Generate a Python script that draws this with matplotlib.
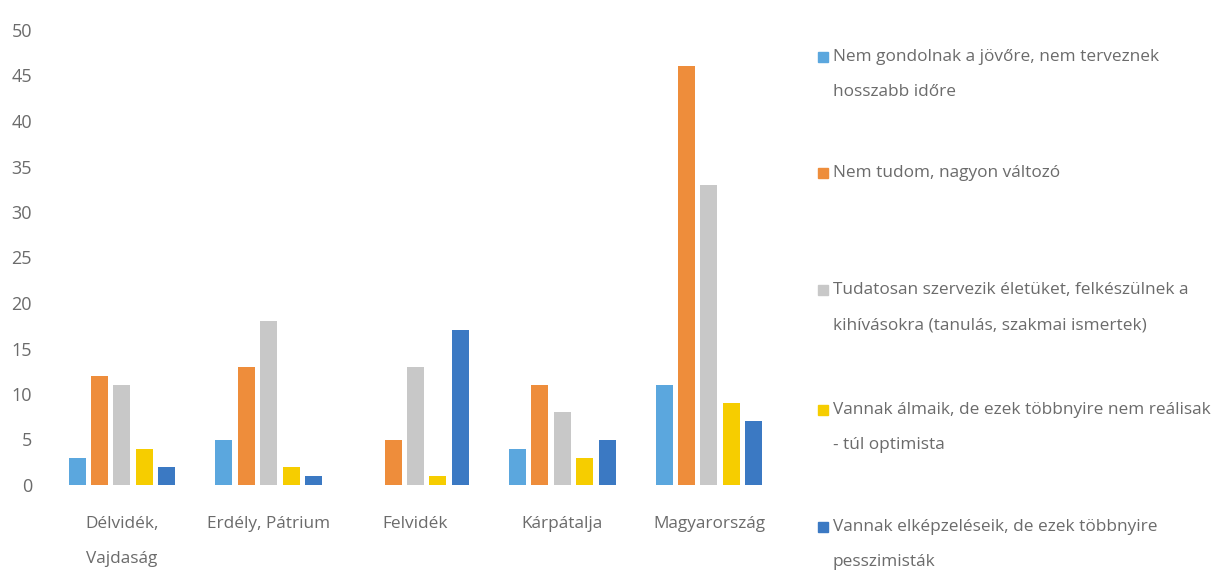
import numpy as np
import matplotlib.pyplot as plt
from matplotlib.patches import Rectangle

plt.rcParams['font.family'] = ['Open Sans', 'DejaVu Sans']

categories = ['Délvidék,\nVajdaság', 'Erdély, Pátrium', 'Felvidék', 'Kárpátalja', 'Magyarország']
series_names = [
    'Nem gondolnak a jövőre, nem terveznek\nhosszabb időre',
    'Nem tudom, nagyon változó',
    'Tudatosan szervezik életüket, felkészülnek a\nkihívásokra (tanulás, szakmai ismertek)',
    'Vannak álmaik, de ezek többnyire nem reálisak\n- túl optimista',
    'Vannak elképzeléseik, de ezek többnyire\npesszimisták',
]
nem_gondolnak = [3, 5, 0, 4, 11]
nem_tudom = [12, 13, 5, 11, 46]
tudatosan = [11, 18, 13, 8, 33]
almaik = [4, 2, 1, 3, 9]
elkepzeleseik = [2, 1, 17, 5, 7]
values = [nem_gondolnak, nem_tudom, tudatosan, almaik, elkepzeleseik]
colors = ['#5BA7DE', '#EE8D3B', '#C8C8C8', '#F6CD00', '#3B79C3']

text_color = '#6B6B6B'
W, H = 1215, 572

fig = plt.figure(figsize=(12.15, 5.72), dpi=100)
ax = fig.add_axes([48.6 / W, 1 - 485 / H, 733.75 / W, 455 / H])

x = np.arange(len(categories))
step = 0.153
width = 0.116
for i, (vals, col) in enumerate(zip(values, colors)):
    ax.bar(x + (i - 2) * step, vals, width, color=col, linewidth=0)

ax.set_xlim(-0.5, 4.5)
ax.set_ylim(0, 50)
ax.set_yticks(range(0, 51, 5))
ax.set_xticks(x)
ax.set_xticklabels(categories, fontsize=12.4, color=text_color, linespacing=2.6)
for lab in ax.get_yticklabels():
    lab.set_color(text_color)
    lab.set_fontsize(13)
ax.tick_params(axis='y', length=0, pad=12)
ax.tick_params(axis='x', length=0, pad=22)
for s in ax.spines.values():
    s.set_visible(False)

# legend drawn by hand, one text per line, to match the spacing
legend_y = [57, 173, 290, 410, 527]
line_gap = 35
for name, col, y in zip(series_names, colors, legend_y):
    fig.patches.append(Rectangle((818 / W, 1 - (y + 5) / H), 10 / W, 10 / H,
                                 transform=fig.transFigure, color=col))
    for k, line in enumerate(name.split('\n')):
        fig.text(833 / W, 1 - (y + k * line_gap) / H, line, fontsize=12.4,
                 color=text_color, va='center', ha='left')

fig.savefig('out.png', dpi=100, facecolor='white')
